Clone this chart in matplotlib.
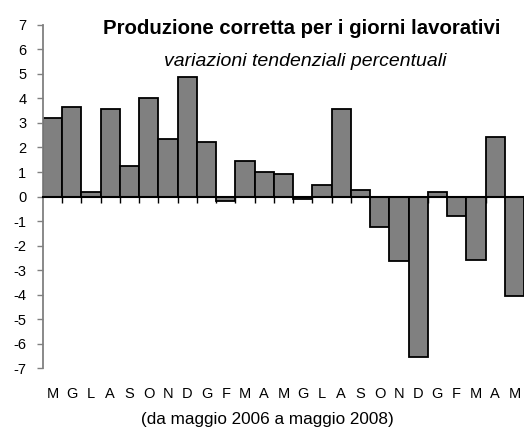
import numpy as np
import matplotlib
matplotlib.use("Agg")
from matplotlib import pyplot as plt

months = ['M', 'G', 'L', 'A', 'S', 'O', 'N', 'D', 'G', 'F', 'M', 'A', 'M',
          'G', 'L', 'A', 'S', 'O', 'N', 'D', 'G', 'F', 'M', 'A', 'M']
values = [3.2, 3.65, 0.19, 3.56, 1.26, 4.0, 2.33, 4.88, 2.23, -0.18, 1.43, 0.98, 0.91,
          -0.1, 0.46, 3.55, 0.27, -1.24, -2.64, -6.54, 0.19, -0.78, -2.57, 2.42, -4.07]
yticks = list(range(-7, 8))

plt.rcParams['font.family'] = ['Liberation Sans', 'DejaVu Sans']

fig = plt.figure(figsize=(5.24, 4.30), dpi=100)
ax = fig.add_axes([0.082, 0.144, 0.918, 0.798])

x = np.arange(len(values))
ax.bar(x, values, width=1.0, color='#808080', edgecolor='black', linewidth=1.3, zorder=2)

ax.set_xlim(-0.5, len(values) - 0.5)
ax.set_ylim(-7, 7)
ax.set_yticks(yticks)
ax.set_yticklabels([str(v) for v in yticks], fontsize=10.5)
ax.tick_params(axis='y', direction='out', length=4, width=1, color='#808080', pad=8)

# x axis sits on zero, ticks at bar boundaries
ax.spines['bottom'].set_position(('data', 0))
ax.spines['bottom'].set_color('black')
ax.spines['bottom'].set_linewidth(1.5)
ax.spines['bottom'].set_zorder(3)
ax.spines['left'].set_color('#808080')
ax.spines['left'].set_linewidth(1.3)
ax.spines['top'].set_visible(False)
ax.spines['right'].set_visible(False)
ax.set_xticks(np.arange(0.5, len(values) - 0.5))
ax.set_xticklabels([])
ax.tick_params(axis='x', direction='out', length=4, width=1, color='black')

for xi, m in zip(x, months):
    ax.text(xi, -8.05, m, ha='center', va='center', fontsize=10.5)

fig.text(0.576, 0.933, 'Produzione corretta per i giorni lavorativi',
         ha='center', va='center', fontsize=14.7, fontweight='bold')
fig.text(0.582, 0.856, 'variazioni tendenziali percentuali',
         ha='center', va='center', fontsize=14, style='italic')
fig.text(0.51, 0.024, '(da maggio 2006 a maggio 2008)',
         ha='center', va='center', fontsize=12.3)

fig.savefig('out.png', dpi=100)
